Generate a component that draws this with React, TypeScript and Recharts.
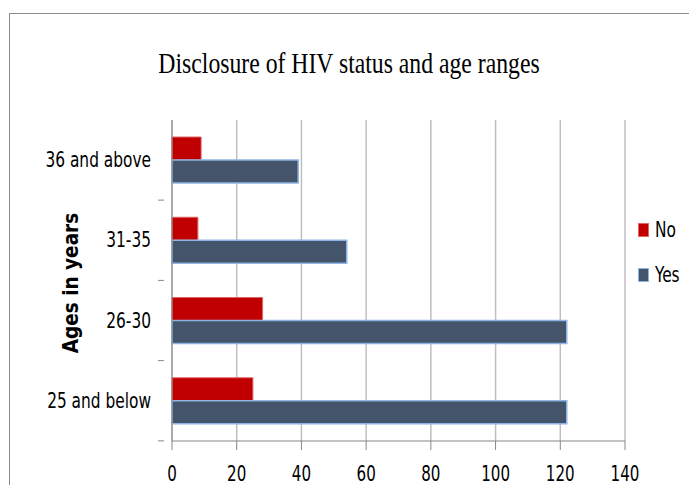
import React from 'react';
import { BarChart, Bar, XAxis, YAxis, CartesianGrid } from 'recharts';

const categories = ['36 and above', '31-35', '26-30', '25 and below'];
const noValues = [9, 8, 28, 25];
const yesValues = [39, 54, 122, 122];
const xTicks = [0, 20, 40, 60, 80, 100, 120, 140];

const data = categories.map((c, i) => ({ age: c, No: noValues[i], Yes: yesValues[i] }));

const NO_COLOR = '#C00000';
const YES_COLOR = '#44546A';
const AXIS = '#868686';
const GRID = '#BFBFBF';
const TICK_FONT = '"DejaVu Sans Condensed", "DejaVu Sans", sans-serif';

const YTick = (props: any) => {
  const { x, y, payload } = props;
  const half = 40;
  const tx = x - 13;
  return (
    <g>
      <text
        x={0}
        y={0}
        transform={`translate(${tx},${y + 7}) scale(0.835,1)`}
        textAnchor="end"
        fontFamily={TICK_FONT}
        fontSize={20.5}
        fill="#000"
      >
        {payload.value}
      </text>
      <line x1={x - 6} x2={x} y1={y + half} y2={y + half} stroke={AXIS} />
    </g>
  );
};

const XTick = (props: any) => {
  const { x, y, payload } = props;
  return (
    <text
      x={0}
      y={0}
      transform={`translate(${x},${y + 29}) scale(0.82,1)`}
      textAnchor="middle"
      fontFamily={TICK_FONT}
      fontSize={20.5}
      fill="#000"
    >
      {payload.value}
    </text>
  );
};

const legendItems = [
  { name: 'No', color: NO_COLOR, stroke: '#E06666', top: 223 },
  { name: 'Yes', color: YES_COLOR, stroke: '#8EB4E3', top: 268 },
];

export default function App() {
  return (
    <div style={{ position: 'absolute', left: 0, top: 0, width: 689, height: 485, background: '#fff', overflow: 'hidden' }}>
      <div style={{ position: 'absolute', left: 9, top: 13, width: 700, height: 500, borderLeft: '1px solid #8C8C8C', borderTop: '1px solid #8C8C8C' }} />
      <div
        style={{
          position: 'absolute',
          left: 349,
          top: 48,
          lineHeight: '30px',
          whiteSpace: 'nowrap',
          transform: 'translateX(-50%) scaleX(0.79)',
          fontFamily: '"Liberation Serif", "Times New Roman", serif',
          fontSize: 30,
          color: '#000',
        }}
      >
        Disclosure of HIV status and age ranges
      </div>
      <div
        style={{
          position: 'absolute',
          left: 71,
          top: 283,
          lineHeight: '22px',
          transform: 'translate(-50%, -50%) rotate(-90deg)',
          whiteSpace: 'nowrap',
          fontFamily: TICK_FONT,
          fontWeight: 'bold',
          fontSize: 20.5,
          color: '#000',
        }}
      >
        Ages in years
      </div>
      {legendItems.map((it) => (
        <div key={it.name} style={{ position: 'absolute', left: 638, top: it.top, display: 'flex', alignItems: 'center', height: 14 }}>
          <div style={{ width: 11, height: 14, background: it.color, border: `1px solid ${it.stroke}`, boxSizing: 'border-box', marginRight: 6 }} />
          <span style={{ fontFamily: TICK_FONT, fontSize: 20.5, display: 'inline-block', transform: 'scaleX(0.835)', transformOrigin: 'left center', lineHeight: '14px' }}>{it.name}</span>
        </div>
      ))}
      <div style={{ position: 'absolute', left: 0, top: 0 }}>
        <BarChart
          width={689}
          height={485}
          data={data}
          layout="vertical"
          margin={{ top: 120, right: 64, bottom: 0, left: 0 }}
          barGap={0}
          barSize={23}
        >
          <CartesianGrid horizontal={false} vertical stroke={GRID} strokeWidth={1.5} />
          <XAxis
            type="number"
            domain={[0, 140]}
            ticks={xTicks}
            interval={0}
            height={44}
            stroke={AXIS}
            tickLine={{ stroke: AXIS }}
            tickSize={9}
            tick={<XTick />}
          />
          <YAxis
            type="category"
            dataKey="age"
            width={172}
            stroke={AXIS}
            tickLine={false}
            tick={<YTick />}
            interval={0}
          />
          <Bar dataKey="No" fill={NO_COLOR} stroke="#E06666" strokeWidth={1} isAnimationActive={false} />
          <Bar dataKey="Yes" fill={YES_COLOR} stroke="#8EB4E3" strokeWidth={1.5} isAnimationActive={false} />
        </BarChart>
      </div>
    </div>
  );
}
